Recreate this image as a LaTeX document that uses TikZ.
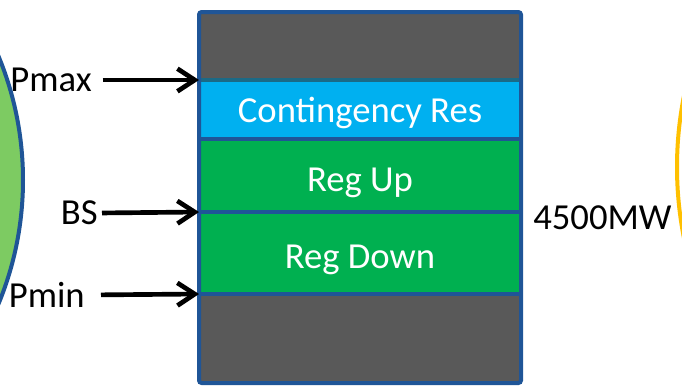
\documentclass[tikz,border=0pt]{standalone}
\usepackage{fontspec}
\setmainfont{Carlito}
\usetikzlibrary{arrows.meta}
\definecolor{edgeblue}{HTML}{1F5597}
\definecolor{darkband}{HTML}{595959}
\definecolor{resblue}{HTML}{00B0F0}
\definecolor{resedge}{HTML}{1B6A86}
\definecolor{reggreen}{HTML}{00B050}
\definecolor{lightgreen}{HTML}{7DCB62}
\definecolor{sunorange}{HTML}{FFC000}
\tikzset{
  band/.style={draw=edgeblue,line width=3pt},
  bandtext/.style={text=white,font=\fontsize{27.5}{32}\selectfont},
  lbl/.style={inner sep=0pt,font=\fontsize{27.5}{32}\selectfont},
  lvl/.style={line width=3.5pt,-{Straight Barb[length=13pt,width=17pt]}}
}
\begin{document}
\begin{tikzpicture}[x=0.75pt,y=-0.75pt]
		\useasboundingbox (0,0) rectangle (682,390);
		\begin{scope}
		\clip (0,0) rectangle (682,390);
		\fill[lightgreen,draw=edgeblue,line width=3pt] (-301,180) circle (324);
		\draw[sunorange,line width=3pt] (1039,167) circle (362);
		\end{scope}
		% stack of bands
		\fill[darkband] (199,12) rectangle (521,80);
		\fill[resblue] (199,80) rectangle (521,139);
		\fill[reggreen] (199,139) rectangle (521,294);
		\fill[darkband] (199,294) rectangle (521,383);
		\draw[resedge,line width=3pt] (199,80) rectangle (521,139);
		\draw[band] (199,139) -- (521,139);
		\draw[band] (199,212) -- (521,212);
		\draw[band] (199,294) -- (521,294);
		\draw[band,rounded corners=2pt] (199,12) rectangle (521,383);
		\node[bandtext] (cres) at (360,113) {Contingency Res};
		\node[bandtext] (regup) at (360,183) {Reg Up};
		\node[bandtext] (regdown) at (360,260) {Reg Down};
		% levels
		\coordinate (pmaxpt) at (199,80);
		\coordinate (bspt) at (199,212);
		\coordinate (pminpt) at (199,294);
		\node[lbl,anchor=east] (pmax) at (92,80) {Pmax};
		\node[lbl,anchor=east] (bs) at (98,213) {BS};
		\node[lbl,anchor=east] (pmin) at (85,295) {Pmin};
		\draw[lvl,shorten <=8pt] (pmax.east) -- (pmaxpt);
		\draw[lvl,shorten <=3pt] (bs.east) -- (bspt);
		\draw[lvl,shorten <=12pt] (pmin.east) -- (pminpt);
		\node[lbl,anchor=west] (mw) at (533,218) {4500MW};
		\end{tikzpicture}
\end{document}
